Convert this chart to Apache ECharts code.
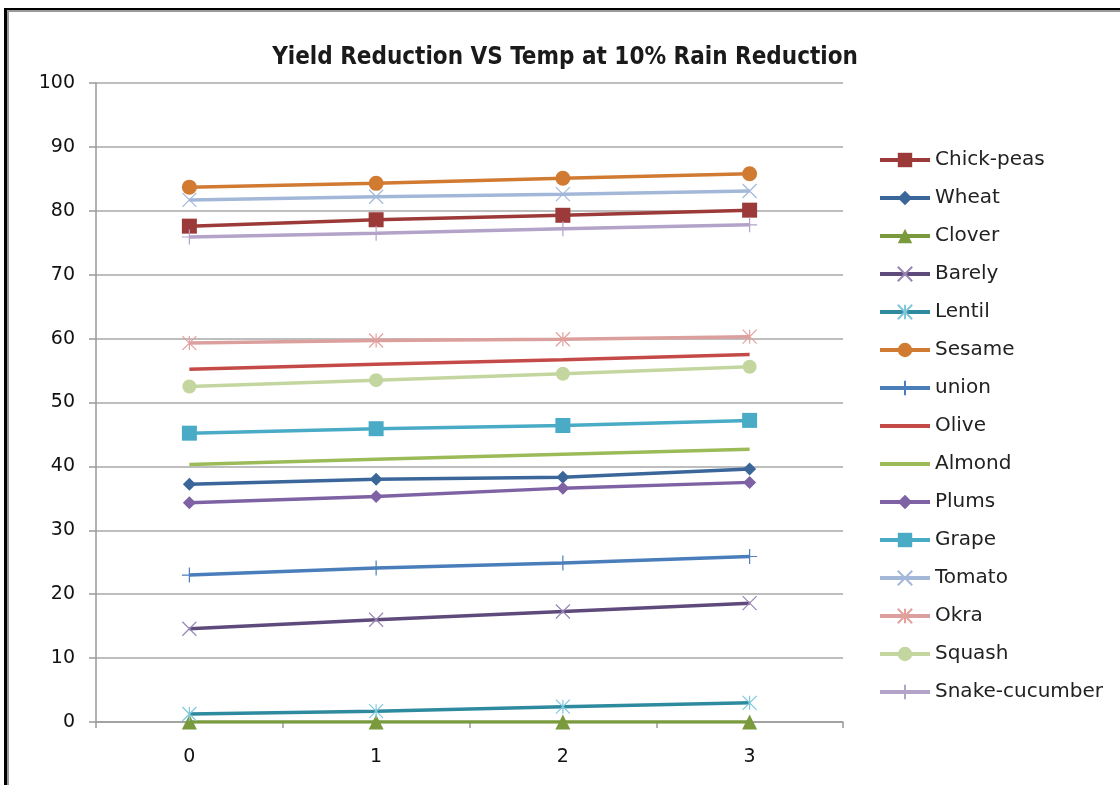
<!DOCTYPE html>
<html>
<head>
<meta charset="utf-8">
<title>Yield Reduction VS Temp at 10% Rain Reduction</title>
<script src="https://cdn.jsdelivr.net/npm/echarts@6/dist/echarts.min.js"></script>
<style>
  html, body { margin: 0; padding: 0; background: #ffffff; }
  #chart { width: 1120px; height: 785px; }
</style>
</head>
<body>
<div id="chart"></div>
<script>
// Temperature increase steps (x axis categories)
const tempSteps = ['0', '1', '2', '3'];

// Yield reduction (%) per crop at each temperature step
const chickPeas     = [77.6, 78.6, 79.3, 80.1];
const wheat         = [37.2, 38.0, 38.3, 39.6];
const clover        = [0, 0, 0, 0];
const barely        = [14.6, 16.0, 17.3, 18.6];
const lentil        = [1.25, 1.7, 2.4, 3.0];
const sesame        = [83.7, 84.3, 85.1, 85.8];
const unionCrop     = [23.0, 24.1, 24.9, 25.9];
const olive         = [55.2, 56.0, 56.7, 57.5];
const almond        = [40.3, 41.1, 41.9, 42.7];
const plums         = [34.3, 35.3, 36.6, 37.5];
const grape         = [45.2, 45.9, 46.4, 47.2];
const tomato        = [81.7, 82.2, 82.6, 83.1];
const okra          = [59.3, 59.7, 59.9, 60.3];
const squash        = [52.5, 53.5, 54.5, 55.6];
const snakeCucumber = [75.9, 76.5, 77.2, 77.8];

// Y axis range
const yMin = 0, yMax = 100, yStep = 10;

// Stroked marker shapes
const SYM_X    = 'path://M0,0L10,10M10,0L0,10';
const SYM_STAR = 'path://M0,0L10,10M10,0L0,10M5,0L5,10';
const SYM_PLUS = 'path://M5,0L5,10M0,5L10,5';

function crop(name, data, lineColor, symbol, markColor, size, stroked) {
  return {
    name: name,
    type: 'line',
    data: data,
    symbol: symbol,
    symbolSize: size,
    showSymbol: symbol !== 'none',
    lineStyle: { color: lineColor, width: 3.5 },
    itemStyle: stroked
      ? { color: 'rgba(0,0,0,0)', borderColor: markColor, borderWidth: 1.2 }
      : { color: markColor, borderColor: markColor, borderWidth: 0 },
    emphasis: { disabled: true },
    animation: false
  };
}

const series = [
  crop('Chick-peas',     chickPeas,     '#9b3a38', 'rect',     '#9b3a38', 15, false),
  crop('Wheat',          wheat,         '#3a6699', 'diamond',  '#3a6699', 13, false),
  crop('Clover',         clover,        '#7a9a3e', 'triangle', '#7a9a3e', 15, false),
  crop('Barely',         barely,        '#5f4a7c', SYM_X,      '#9a86b5', 14, true),
  crop('Lentil',         lentil,        '#2e8a9e', SYM_STAR,   '#7fc8dc', 14, true),
  crop('Sesame',         sesame,        '#d17a32', 'circle',   '#d17a32', 15, false),
  crop('union',          unionCrop,     '#4a7ebb', SYM_PLUS,   '#4a7ebb', 15, true),
  crop('Olive',          olive,         '#c44a47', 'none',     '#c44a47', 0,  false),
  crop('Almond',         almond,        '#9bbb59', 'none',     '#9bbb59', 0,  false),
  crop('Plums',          plums,         '#7e62a4', 'diamond',  '#7e62a4', 13, false),
  crop('Grape',          grape,         '#4aabc7', 'rect',     '#4aabc7', 15, false),
  crop('Tomato',         tomato,        '#a3b8d8', SYM_X,      '#a3b8d8', 14, true),
  crop('Okra',           okra,          '#dba09e', SYM_STAR,   '#e3a09e', 14, true),
  crop('Squash',         squash,        '#c4d6a0', 'circle',   '#c4d6a0', 14, false),
  crop('Snake-cucumber', snakeCucumber, '#b3a3c8', SYM_PLUS,   '#b3a3c8', 15, true)
];

// Legend entries; line-only series get no marker in their key
const legendData = series.map(s => s.symbol === 'none'
  ? { name: s.name, itemStyle: { opacity: 0 } }
  : { name: s.name });

const chart = echarts.init(document.getElementById('chart'), null, { renderer: 'canvas' });

chart.setOption({
  backgroundColor: '#ffffff',
  animation: false,
  title: {
    text: 'Yield Reduction VS Temp at 10% Rain Reduction',
    left: 560,
    textAlign: 'center',
    top: 41,
    textStyle: {
      fontFamily: 'DejaVu Sans Condensed, DejaVu Sans',
      fontWeight: 'bold',
      fontSize: 24,
      color: '#1a1a1a'
    }
  },
  grid: { left: 96, right: 277, top: 83, bottom: 63, containLabel: false },
  legend: {
    orient: 'vertical',
    left: 873,
    top: 145,
    itemWidth: 50,
    itemHeight: 18,
    itemGap: 18,
    lineStyle: { width: 4 },
    textStyle: { fontFamily: 'DejaVu Sans', fontSize: 20, color: '#222222' },
    data: legendData
  },
  xAxis: {
    type: 'category',
    data: tempSteps,
    boundaryGap: true,
    axisLine: { lineStyle: { color: '#9a9a9a', width: 1.5 } },
    axisTick: { show: true, alignWithLabel: false, length: 6, lineStyle: { color: '#9a9a9a', width: 1.5 } },
    axisLabel: { margin: 26, fontFamily: 'DejaVu Sans', fontSize: 19, color: '#111111' },
    splitLine: { show: false }
  },
  yAxis: {
    type: 'value',
    min: yMin,
    max: yMax,
    interval: yStep,
    axisLine: { show: true, lineStyle: { color: '#9a9a9a', width: 1.5 } },
    axisTick: { show: true, length: 7, lineStyle: { color: '#9a9a9a', width: 1.5 } },
    axisLabel: { margin: 21, fontFamily: 'DejaVu Sans', fontSize: 19, color: '#111111' },
    splitLine: { show: true, lineStyle: { color: '#a8a8a8', width: 1.5 } }
  },
  graphic: [
    // outer frame: black edge with grey inner edge (top and left)
    { type: 'rect', shape: { x: 4, y: 8, width: 1116, height: 2 }, style: { fill: '#000000' }, silent: true },
    { type: 'rect', shape: { x: 4, y: 8, width: 3, height: 777 }, style: { fill: '#000000' }, silent: true },
    { type: 'rect', shape: { x: 7, y: 10, width: 1113, height: 2 }, style: { fill: '#9a9a9a' }, silent: true },
    { type: 'rect', shape: { x: 7, y: 10, width: 2, height: 775 }, style: { fill: '#9a9a9a' }, silent: true }
  ],
  series: series
});
</script>
</body>
</html>
